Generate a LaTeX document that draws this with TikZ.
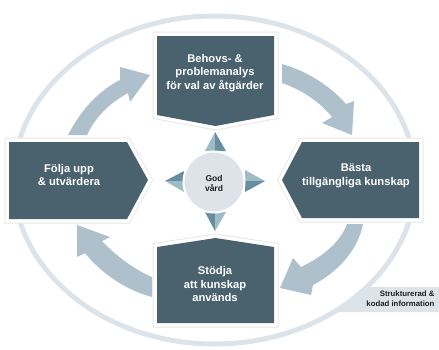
\documentclass[tikz,border=0pt]{standalone}
\usepackage{fontspec}
\setmainfont{Liberation Sans}
\definecolor{boxc}{RGB}{74,97,110}
\definecolor{arrc}{RGB}{174,192,203}
\definecolor{ringc}{RGB}{221,228,233}
\definecolor{circc}{RGB}{221,227,233}
\definecolor{lightc}{RGB}{160,187,200}
\definecolor{darkc}{RGB}{104,141,158}
\definecolor{textd}{RGB}{30,30,30}
\tikzset{
  stepbox/.style={fill=boxc,
    preaction={draw=black!9,line width=9pt},
    preaction={draw=white,line width=7pt}},
  curvarrow/.style={fill=arrc},
  boxtext/.style={text=white,align=center,font=\fontsize{11.2}{13.5}\selectfont\bfseries},
}
\begin{document}
\begin{tikzpicture}[x=1pt,y=-1pt]
\useasboundingbox (0,0) rectangle (439,349);
% outer ring and tab
\fill[ringc] (367,287) -- (439,287) -- (439,312) -- (337,312) -- cycle;
\draw[ringc,line width=5pt] (214.5,180) ellipse [x radius=201, y radius=164];
\node[anchor=east,align=right,text=textd,font=\fontsize{7.8}{10}\selectfont\bfseries] (lab) at (438,299) {Strukturerad \&\\kodad information};
% curved arrows
\fill[curvarrow] (68,135) .. controls (82,108) and (100,90) .. (120,80)
  -- (120,67) -- (150,75) -- (130,102) -- (128,93)
  .. controls (110,103) and (96,116) .. (87,135) -- cycle;
\fill[curvarrow] (282,64) .. controls (310,72) and (332,88) .. (346,104)
  -- (354,101) -- (352,135) -- (322,123) -- (332,117)
  .. controls (320,102) and (302,90) .. (282,83) -- cycle;
\fill[curvarrow] (363,224) .. controls (358,250) and (338,272) .. (313,285)
  -- (311,295) -- (280,288) -- (293,258) -- (301,267)
  .. controls (322,257) and (340,243) .. (347,224) -- cycle;
\fill[curvarrow] (152,277) .. controls (135,270) and (115,255) .. (102,241)
  -- (110,237) -- (77,225) -- (77,257) -- (85,253)
  .. controls (100,272) and (125,290) .. (152,297) -- cycle;
% boxes
\path[stepbox] (157,36) -- (274,36) -- (274,115) -- (215.5,126) -- (157,115) -- cycle;
\path[stepbox] (302,142) -- (419,142) -- (419,218) -- (302,218) -- (282,180) -- cycle;
\path[stepbox] (9,142) -- (127,142) -- (148,180) -- (127,219) -- (9,219) -- cycle;
\path[stepbox] (157,247) -- (215.5,238) -- (274,247) -- (274,323) -- (157,323) -- cycle;
\node[boxtext] (top) at (215,73) {Behovs- \&\\problemanalys\\för val av åtgärder};
\node[boxtext] (right) at (356,176) {Bästa\\tillgängliga kunskap};
\node[boxtext] (left) at (69,175) {Följa upp\\\& utvärdera};
\node[boxtext] (bottom) at (215,284) {Stödja\\att kunskap\\används};
% small compass arrows
\fill[lightc] (215,132) -- (205,151) -- (215,151) -- cycle;
\fill[darkc] (215,132) -- (226,151) -- (215,151) -- cycle;
\fill[lightc] (265,181) -- (245,170) -- (245,181) -- cycle;
\fill[darkc] (265,181) -- (245,192) -- (245,181) -- cycle;
\fill[darkc] (215,231) -- (205,212) -- (215,212) -- cycle;
\fill[lightc] (215,231) -- (226,212) -- (215,212) -- cycle;
\fill[darkc] (165,181) -- (184,171) -- (184,181) -- cycle;
\fill[lightc] (165,181) -- (184,192) -- (184,181) -- cycle;
% centre circle
\node[circle,fill=circc,draw=white,line width=2pt,minimum size=61pt,inner sep=0pt] (god) at (214,182) {};
\node[align=center,text=textd,font=\fontsize{8.5}{10.5}\selectfont\bfseries] (godt) at (214,183.5) {God\\vård};
\end{tikzpicture}
\end{document}
